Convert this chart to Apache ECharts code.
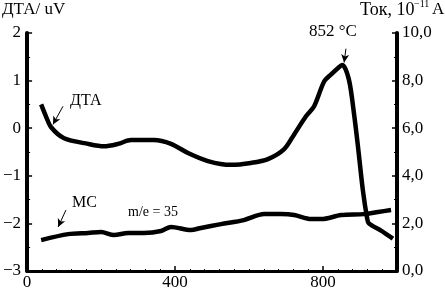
<!DOCTYPE html>
<html><head><meta charset="utf-8">
<script src="https://cdn.jsdelivr.net/npm/echarts@6/dist/echarts.min.js"></script>
<style>html,body{margin:0;padding:0;background:#fff}#c{width:445px;height:291px}</style>
</head><body><div id="c"></div>
<script>
var dtaT = [38, 51, 65, 100, 165, 208, 246, 281, 343, 389, 435, 489, 551, 605, 651, 695, 722, 754, 776, 803, 822, 840, 852, 870, 884, 895, 908, 919, 924, 957, 989];
var dtaV = [0.50, 0.25, 0.02, -0.21, -0.33, -0.38, -0.33, -0.25, -0.25, -0.33, -0.52, -0.69, -0.77, -0.73, -0.65, -0.44, -0.13, 0.25, 0.46, 0.98, 1.13, 1.26, 1.33, 1.02, 0.29, -0.42, -1.32, -1.88, -2.0, -2.15, -2.32];
var msT = [38, 111, 165, 200, 235, 273, 316, 362, 389, 443, 470, 524, 586, 641, 686, 722, 768, 795, 849, 911, 949, 984];
var msV = [1.30, 1.55, 1.60, 1.64, 1.51, 1.60, 1.60, 1.68, 1.85, 1.72, 1.81, 1.97, 2.14, 2.39, 2.39, 2.35, 2.18, 2.18, 2.35, 2.39, 2.48, 2.56];
var xTicks = [0, 400, 800];
var leftTicks = [-3, -2, -1, 0, 1, 2];
var rightTicks = [0, 2, 4, 6, 8, 10];

var F = 'Liberation Serif';
function zip(a, b) { return a.map(function (v, i) { return [v, b[i]]; }); }

var chart = echarts.init(document.getElementById('c'), null, {renderer: 'canvas'});
chart.setOption({
  animation: false,
  grid: {left: 26, right: 48, top: 33, bottom: 20},
  xAxis: {
    type: 'value', min: 0, max: 1000, interval: 400,
    axisLine: {onZero: false, lineStyle: {color: '#000', width: 3}},
    axisTick: {inside: true, length: 5, lineStyle: {color: '#000', width: 1.5}},
    minorTick: {show: true, splitNumber: 10, length: 2, lineStyle: {color: '#000', width: 1}},
    splitLine: {show: false},
    axisLabel: {color: '#000', fontFamily: F, fontSize: 17, margin: 3, showMaxLabel: false,
      formatter: function (v) { return xTicks.indexOf(v) >= 0 ? String(v) : ''; }}
  },
  yAxis: [{
    type: 'value', min: -3, max: 2, interval: 1, position: 'left',
    axisLine: {show: true, onZero: false, lineStyle: {color: '#000', width: 4}},
    axisTick: {show: true, inside: true, length: 5, lineStyle: {color: '#000', width: 1.5}},
    minorTick: {show: true, splitNumber: 2, length: 3, lineStyle: {color: '#000', width: 1}},
    splitLine: {show: false},
    axisLabel: {color: '#000', fontFamily: F, fontSize: 17, margin: 6,
      formatter: function (v) { return leftTicks.indexOf(v) >= 0 ? (v < 0 ? '\u2212' + (-v) : String(v)) : ''; }}
  }, {
    type: 'value', min: 0, max: 10, interval: 2, position: 'right',
    axisLine: {show: true, onZero: false, lineStyle: {color: '#000', width: 4}},
    axisTick: {show: true, inside: true, length: 5, lineStyle: {color: '#000', width: 1.5}},
    minorTick: {show: true, splitNumber: 2, length: 3, lineStyle: {color: '#000', width: 1}},
    splitLine: {show: false},
    axisLabel: {color: '#000', fontFamily: F, fontSize: 17, margin: 5,
      formatter: function (v) { return rightTicks.indexOf(v) >= 0 ? v.toFixed(1).replace('.', ',') : ''; }}
  }],
  series: [{
    type: 'line', yAxisIndex: 0, data: zip(dtaT, dtaV), showSymbol: false,
    smooth: 0.3,
    lineStyle: {color: '#000', width: 4.5},
    markLine: {
      silent: true, symbol: ['none', 'arrow'], symbolSize: [6, 8],
      lineStyle: {color: '#000', width: 1, type: 'solid'}, label: {show: false},
      data: [
        [{coord: [97, 0.46]}, {coord: [70, 0.08]}],
        [{coord: [862, 1.67]}, {coord: [857, 1.38]}]
      ]
    }
  }, {
    type: 'line', yAxisIndex: 1, data: zip(msT, msV), showSymbol: false,
    smooth: 0.3,
    lineStyle: {color: '#000', width: 4.5},
    markLine: {
      silent: true, symbol: ['none', 'arrow'], symbolSize: [6, 8],
      lineStyle: {color: '#000', width: 1, type: 'solid'}, label: {show: false},
      data: [
        [{coord: [105, 2.56]}, {coord: [84, 1.85]}]
      ]
    }
  }],
  graphic: [
    {type: 'text', left: 2, top: 1, style: {text: 'ДТА/ uV', font: '17px "Liberation Serif"', fill: '#000'}},
    {type: 'text', left: 360, top: 1, style: {text: 'Ток, 10', font: '18px "Liberation Serif"', fill: '#000'}},
    {type: 'text', left: 414, top: -1, style: {text: '\u221211', font: '10px "Liberation Serif"', fill: '#000'}},
    {type: 'text', left: 432, top: 1, style: {text: 'A', font: '17px "Liberation Serif"', fill: '#000'}},
    {type: 'text', left: 309, top: 23, style: {text: '852 °C', font: '17px "Liberation Serif"', fill: '#000'}},
    {type: 'text', left: 70, top: 93, style: {text: 'ДТА', font: '16px "Liberation Serif"', fill: '#000'}},
    {type: 'text', left: 72, top: 195, style: {text: 'МС', font: '16px "Liberation Serif"', fill: '#000'}},
    {type: 'text', left: 128, top: 205, style: {text: 'm/e = 35', font: '14px "Liberation Serif"', fill: '#000'}}
  ]
});
</script></body></html>
